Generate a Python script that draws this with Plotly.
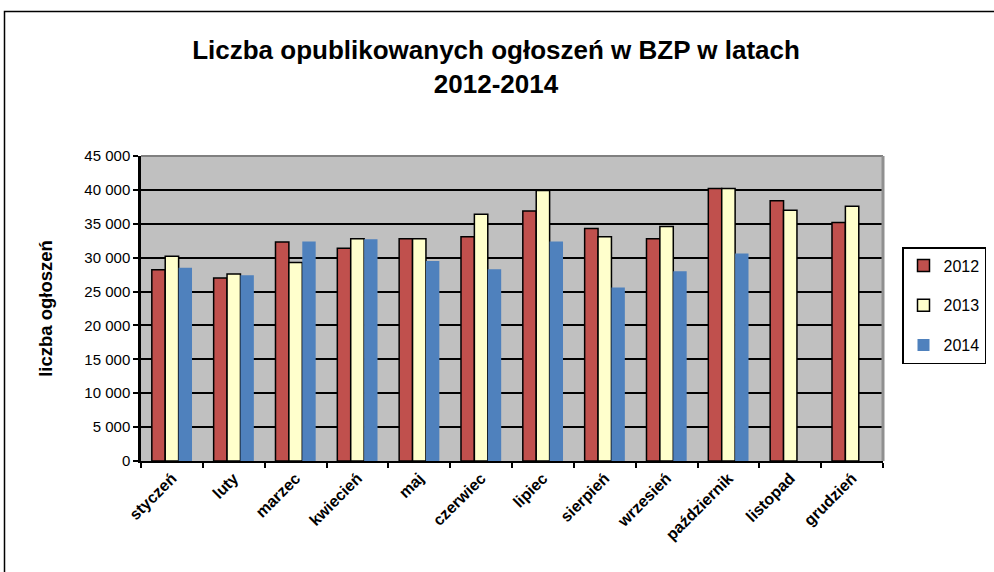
import plotly.graph_objects as go

months = ["styczeń", "luty", "marzec", "kwiecień", "maj", "czerwiec", "lipiec",
          "sierpień", "wrzesień", "październik", "listopad", "grudzień"]
v2012 = [28200, 27000, 32300, 31400, 32800, 33100, 36900, 34300, 32800, 40200, 38400, 35200]
v2013 = [30200, 27600, 29300, 32800, 32800, 36400, 39900, 33100, 34600, 40200, 37000, 37600]
v2014 = [28500, 27400, 32400, 32700, 29500, 28300, 32400, 25600, 28000, 30600, None, None]

FONT = "Liberation Sans, Arial, sans-serif"

W, H = 994, 572
L, R, T, B = 141, 883, 156, 461
pw, ph = R - L, B - T

def px_x(p):
    return (p - L) / pw

def px_y(p):
    return (B - p) / ph

fig = go.Figure()
fig.add_trace(go.Bar(name="2012", x=months, y=v2012, marker=dict(color="#C0504D", line=dict(color="black", width=1.5)), legendgroup="a"))
fig.add_trace(go.Bar(name="2013", x=months, y=v2013, marker=dict(color="#FFFFCC", line=dict(color="black", width=1.5)), legendgroup="b"))
fig.add_trace(go.Bar(name="2014", x=months, y=v2014, marker=dict(color="#4F81BD", line=dict(width=0)), legendgroup="c"))

fig.update_layout(
    width=W, height=H,
    margin=dict(l=L, r=W - R, t=T, b=H - B, autoexpand=False),
    paper_bgcolor="white",
    plot_bgcolor="#C0C0C0",
    barmode="group",
    bargap=0.35,
    bargroupgap=0,
    separators=", ",
    font=dict(family=FONT, color="black"),
    title=dict(text="<b>Liczba opublikowanych ogłoszeń w BZP w latach<br>2012-2014</b>",
               x=496 / W, xanchor="center", y=1 - 59 / H, yanchor="middle",
               font=dict(size=26, family=FONT, color="black")),
    legend=dict(x=px_x(986), xanchor="right", y=px_y(247), yanchor="top",
                bgcolor="white", bordercolor="black", borderwidth=1.5,
                font=dict(size=16, family=FONT), tracegroupgap=16,
                traceorder="grouped", itemwidth=30),
    xaxis=dict(showgrid=False, ticks="outside", tickson="boundaries", ticklen=5,
               tickcolor="black", tickwidth=1.5, showline=True, linecolor="black",
               linewidth=1.5, tickangle=-45, automargin=False,
               tickfont=dict(size=16, family=FONT, color="black", weight="bold")),
    yaxis=dict(range=[0, 45000], dtick=5000, tickformat=",d", showgrid=True,
               gridcolor="black", gridwidth=1.5, ticks="outside", ticklen=5,
               tickcolor="black", tickwidth=1.5, showline=True, linecolor="black",
               linewidth=2.5, zeroline=False, automargin=False,
               tickfont=dict(size=15, family=FONT, color="black"),
               title=dict(text="<b>liczba ogłoszeń</b>", standoff=27,
                          font=dict(size=18.5, family=FONT, color="black"))),
    shapes=[
        dict(type="line", xref="paper", yref="paper", x0=0, x1=1, y0=1, y1=1,
             line=dict(color="#808080", width=2)),
        dict(type="line", xref="paper", yref="paper", x0=1, x1=1, y0=0, y1=1,
             line=dict(color="#909090", width=3)),
        dict(type="rect", xref="paper", yref="paper",
             x0=px_x(4.5), x1=px_x(1010), y0=px_y(11.5), y1=px_y(600),
             line=dict(color="black", width=1.5), layer="below"),
    ],
)

fig.write_html("out.html", config={"displayModeBar": False},
               post_script="document.body.style.margin='0';")
